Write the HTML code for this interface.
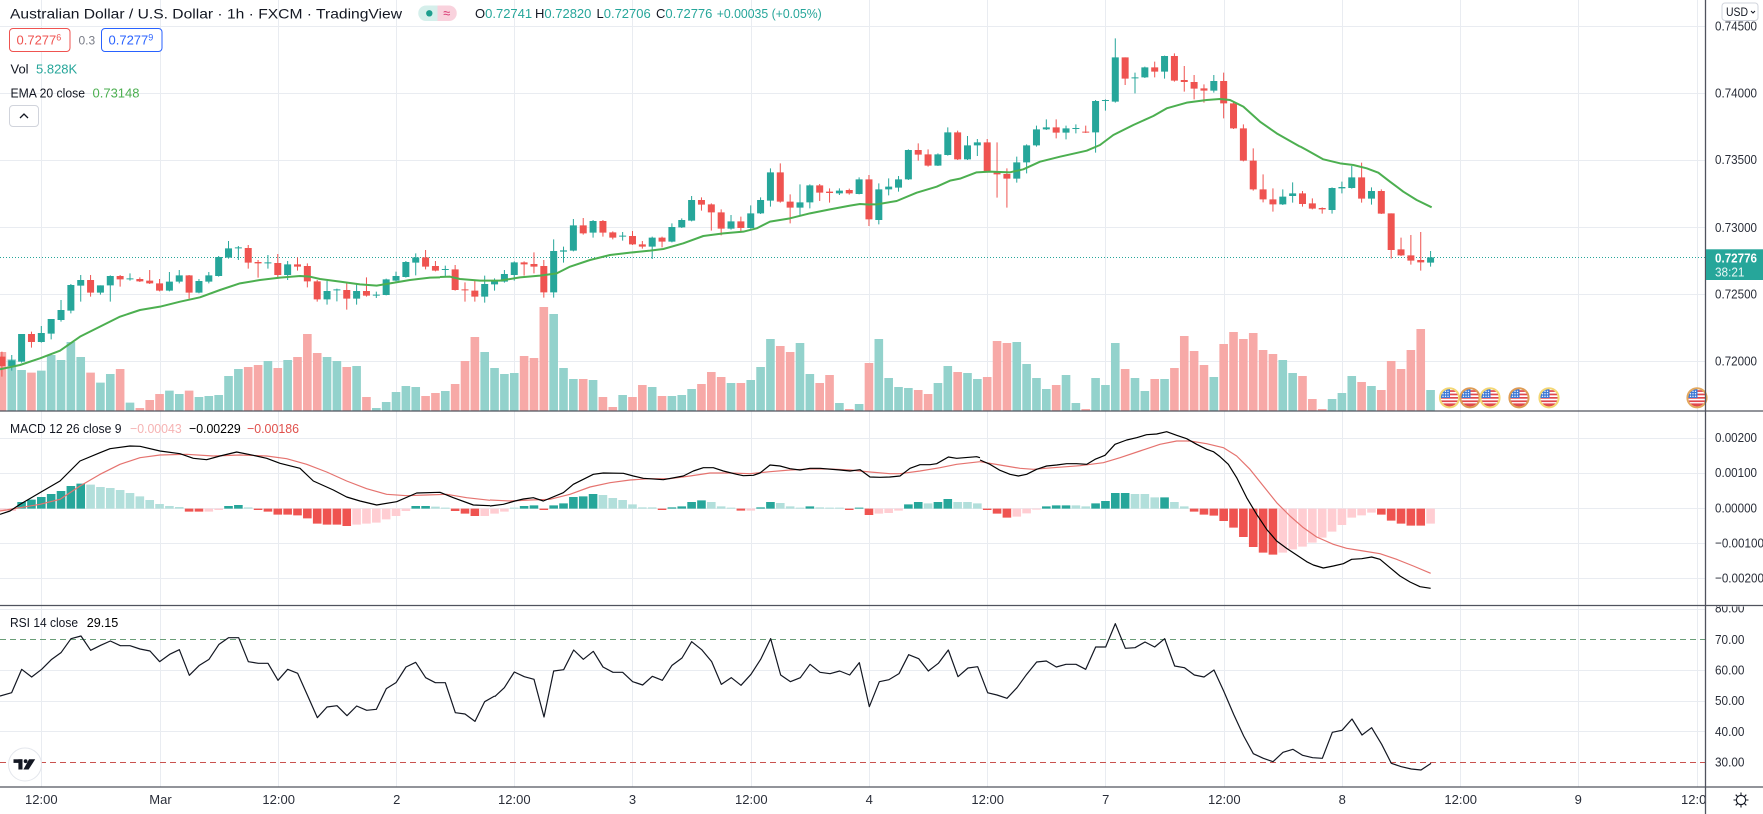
<!DOCTYPE html>
<html><head><meta charset="utf-8"><style>html,body{margin:0;padding:0;background:#fff;}svg{display:block}</style></head>
<body>
<svg width="1763" height="814" viewBox="0 0 1763 814" xmlns="http://www.w3.org/2000/svg" xmlns:xlink="http://www.w3.org/1999/xlink" font-family="'Liberation Sans', Arial, sans-serif">
<defs>
<clipPath id="fc"><circle cx="0" cy="0" r="8.8"/></clipPath>
<clipPath id="plotclip"><rect x="0" y="0" width="1705" height="814"/></clipPath>
<clipPath id="rsiax"><rect x="1706" y="606.5" width="60" height="180"/></clipPath>
<g id="flag">
<g clip-path="url(#fc)">
<rect x="-10" y="-10" width="20" height="20" fill="#fff"/>
<rect x="-10" y="-7.6" width="20" height="1.7" fill="#e0474c"/>
<rect x="-10" y="-4.2" width="20" height="1.7" fill="#e0474c"/>
<rect x="-10" y="-0.8" width="20" height="1.7" fill="#e0474c"/>
<rect x="-10" y="2.6" width="20" height="1.7" fill="#e0474c"/>
<rect x="-10" y="5.6" width="20" height="5" fill="#e0474c"/>
<rect x="-10" y="-10" width="10.5" height="10.2" fill="#3b78d6"/>
<g fill="#fff"><circle cx="-6.5" cy="-6.5" r="0.7"/><circle cx="-4" cy="-6.5" r="0.7"/><circle cx="-1.5" cy="-6.5" r="0.7"/><circle cx="-6.5" cy="-4" r="0.7"/><circle cx="-4" cy="-4" r="0.7"/><circle cx="-1.5" cy="-4" r="0.7"/><circle cx="-6.5" cy="-1.5" r="0.7"/><circle cx="-4" cy="-1.5" r="0.7"/><circle cx="-1.5" cy="-1.5" r="0.7"/></g>
</g>
</g>
</defs>
<rect x="0" y="0" width="1763" height="814" fill="#fff"/>

<!-- grid -->
<g stroke="#e9ecf1" stroke-width="1">
<path d="M0 26.5H1705M0 93.5H1705M0 160.5H1705M0 227.5H1705M0 294.5H1705M0 361.5H1705"/>
<path d="M0 438.5H1705M0 473.5H1705M0 508.5H1705M0 543.5H1705M0 578.5H1705"/>
<path d="M0 609.5H1705M0 670.5H1705M0 701.5H1705M0 731.5H1705"/>
<path d="M41.5 0V787M160.5 0V787M278.5 0V787M396.5 0V787M514.5 0V787M632.5 0V787M751.5 0V787M869.5 0V787M987.5 0V787M1105.5 0V787M1224.5 0V787M1342.5 0V787M1460.5 0V787M1578.5 0V787M1697.5 0V787"/>
</g>

<!-- VOLUME -->
<g fill="none" stroke-width="8.6">
<g transform="translate(1.9,180) scale(9.853,0.333333)">
<path vector-effect="non-scaling-stroke" stroke="#93d2cc" d="M1 538V693M2 570V693M4 572V693M5 525V693M6 540V693M7 486V693M8 531V693M10 608V693M11 582V693M13 668V693M17 632V693M18 642V693M20 651V693M21 648V693M22 645V693M23 588V693M24 567V693M27 543V693M29 540V693M33 531V693M34 543V693M36 558V693M38 684V693M39 666V693M40 636V693M41 618V693M42 621V693"/>
<path vector-effect="non-scaling-stroke" stroke="#f7a9a7" d="M0 516V693M3 578V693M9 578V693M12 567V693M14 684V693M15 660V693M16 642V693M19 632V693M25 561V693M26 555V693M28 564V693M30 531V693M31 462V693M32 519V693M35 561V693M37 651V693M43 648V693M44 639V693"/>
</g>
<g transform="translate(1.9,100) scale(9.853,0.333333)">
<path vector-effect="non-scaling-stroke" stroke="#93d2cc" d="M45 873V933M49 756V933M50 804V933M51 822V933M52 819V933M56 642V933M57 804V933M58 837V933M60 840V933M63 885V933M66 861V933M68 888V933M69 885V933M70 867V933M74 849V933M76 840V933M77 801V933M78 717V933M81 729V933M82 822V933M85 909V933M87 912V933"/>
<path vector-effect="non-scaling-stroke" stroke="#f7a9a7" d="M46 852V933M47 783V933M48 711V933M53 768V933M54 774V933M55 621V933M59 837V933M61 891V933M62 921V933M64 891V933M65 855V933M67 888V933M71 852V933M72 816V933M73 831V933M75 849V933M79 738V933M80 756V933M83 849V933M84 825V933M86 927V933M88 789V933"/>
</g>
<g transform="translate(1.9,20) scale(9.853,0.333333)">
<path vector-effect="non-scaling-stroke" stroke="#93d2cc" d="M89 957V1173M90 1074V1173M91 1101V1173M92 1104V1173M95 1089V1173M96 1038V1173M98 1059V1173M99 1077V1173M103 966V1173M104 1032V1173M105 1074V1173M106 1107V1173M108 1065V1173M109 1149V1173M111 1074V1173M112 1095V1173M113 969V1173M115 1074V1173M116 1113V1173M118 1077V1173M123 1071V1173M130 1020V1173M131 1059V1173"/>
<path vector-effect="non-scaling-stroke" stroke="#f7a9a7" d="M93 1110V1173M94 1122V1173M97 1056V1173M100 1071V1173M101 963V1173M102 969V1173M107 1095V1173M110 1167V1173M114 1047V1173M117 1077V1173M119 1044V1173M120 948V1173M121 993V1173M122 1035V1173M124 972V1173M125 936V1173M126 957V1173M127 939V1173M128 990V1173M129 1002V1173"/>
</g>
<g transform="translate(1.9,100) scale(9.853,0.333333)">
<path vector-effect="non-scaling-stroke" stroke="#93d2cc" d="M135 897V933M136 879V933M137 828V933M139 858V933M145 870V933"/>
<path vector-effect="non-scaling-stroke" stroke="#f7a9a7" d="M132 828V933M133 897V933M134 927V933M138 846V933M140 870V933M141 783V933M142 807V933M143 750V933M144 687V933"/>
</g>
</g>

<!-- price line -->
<line x1="0" y1="257.5" x2="1705" y2="257.5" stroke="#26a69a" stroke-width="1" stroke-dasharray="1 2"/>

<!-- CANDLES -->
<g fill="none">
<g transform="translate(1.9,180) scale(9.853,0.333333)">
<path vector-effect="non-scaling-stroke" stroke="#26a69a" stroke-width="1" d="M1 525V572M2 462V548M4 438V488M5 417V478M6 360V425M7 312V400M8 285V365M10 316V344M11 286V365M13 280V302M17 276V334M18 270V310M20 297V340M21 276V310M22 228V290M23 183V236M24 198V240M27 225V266M29 243V300M33 303V374M34 326V364M36 310V374M38 335V354M39 296V346M40 275V304M41 243V293M42 220V286"/>
<path vector-effect="non-scaling-stroke" stroke="#26a69a" stroke-width="7" d="M1 558V541M2 545V462M4 486V459M5 461V417M6 420V390M7 392V315M8 317V300M10 338V316M11 316V288M13 298V295M17 332V305M18 305V286M20 338V303M21 305V286M22 288V231M23 233V205M24 205V202M27 250V247M29 285V253M33 358V333M34 331V328M36 356V333M38 347V344M39 345V298M40 302V288M41 291V246M42 248V232"/>
<path vector-effect="non-scaling-stroke" stroke="#ef5350" stroke-width="1" d="M0 515V590M3 455V503M9 285V350M12 285V320M14 292V306M15 270V312M16 297V334M19 285V356M25 195V266M26 240V293M28 222V296M30 232V272M31 250V322M32 300V365M35 310V389M37 292V350M43 210V268M44 243V274"/>
<path vector-effect="non-scaling-stroke" stroke="#ef5350" stroke-width="7" d="M0 530V558M3 462V486M9 300V338M12 288V298M14 297V304M15 302V310M16 310V332M19 286V338M25 204V248M26 246V250M28 249V285M30 253V260M31 258V304M32 304V358M35 330V356M37 333V347M43 232V260M44 258V272"/>
</g>
<g transform="translate(1.9,100) scale(9.853,0.333333)">
<path vector-effect="non-scaling-stroke" stroke="#26a69a" stroke-width="1" d="M45 497V528M49 527V608M50 535V572M51 510V548M52 484V542M56 418V593M57 440V488M58 357V454M60 360V413M63 396V422M66 410V477M68 370V427M69 355V384M70 288V364M74 345V389M76 316V386M77 292V342M78 205V320M81 253V345M82 253V325M85 265V285M87 232V283"/>
<path vector-effect="non-scaling-stroke" stroke="#26a69a" stroke-width="7" d="M45 510V507M49 590V552M50 553V540M51 545V522M52 525V487M56 577V453M57 455V451M58 452V376M60 398V363M63 410V407M66 440V413M68 425V381M69 382V360M70 362V300M74 386V364M76 384V340M77 340V300M78 302V217M81 323V307M82 307V256M85 280V272M87 282V238"/>
<path vector-effect="non-scaling-stroke" stroke="#ef5350" stroke-width="1" d="M46 495V572M47 547V605M48 540V605M53 484V527M54 457V520M55 480V593M59 354V404M61 360V410M62 394V418M64 393V435M65 423V446M67 410V442M71 292V332M72 310V392M73 328V406M75 350V398M79 190V308M80 283V370M83 252V303M84 265V308M86 266V284M88 225V378"/>
<path vector-effect="non-scaling-stroke" stroke="#ef5350" stroke-width="7" d="M46 508V570M47 568V571M48 572V590M53 487V493M54 492V500M55 498V577M59 376V400M61 363V398M62 397V413M64 408V433M65 433V440M67 413V425M71 300V314M72 313V337M73 337V386M75 364V384M79 217V305M80 305V323M83 256V278M84 275V279M86 270V280M88 238V358"/>
</g>
<g transform="translate(1.9,20) scale(9.853,0.333333)">
<path vector-effect="non-scaling-stroke" stroke="#26a69a" stroke-width="1" d="M89 490V613M90 475V526M91 468V515M92 388V480M95 400V438M96 322V407M98 348V420M99 357V408M103 410V488M104 373V460M105 317V380M106 298V330M108 317V358M109 313V340M111 240V398M112 238V272M113 55V248M115 158V220M116 140V174M118 107V176M123 165V218M130 508V555M131 487V548"/>
<path vector-effect="non-scaling-stroke" stroke="#26a69a" stroke-width="7" d="M89 600V508M90 508V500M91 503V478M92 478V390M95 437V403M96 405V337M98 418V376M99 376V367M103 476V427M104 427V376M105 376V328M106 328V322M108 338V325M109 327V324M111 337V243M112 243V240M113 245V112M115 175V172M116 172V142M118 155V108M123 212V183M130 553V530M131 528V520"/>
<path vector-effect="non-scaling-stroke" stroke="#ef5350" stroke-width="1" d="M93 370V422M94 388V440M97 332V420M100 357V458M101 367V533M102 445V563M107 298V355M110 317V339M114 112V195M117 125V172M119 100V185M120 138V215M121 165V238M122 193V248M124 158V295M125 243V327M126 313V424M127 385V512M128 463V547M129 505V575"/>
<path vector-effect="non-scaling-stroke" stroke="#ef5350" stroke-width="7" d="M93 390V404M94 403V437M97 337V418M100 367V455M101 455V463M102 462V476M107 322V338M110 335V338M114 112V176M117 142V155M119 108V182M120 180V186M121 186V206M122 205V212M124 183V250M125 250V325M126 325V422M127 422V508M128 508V538M129 538V553"/>
</g>
<g transform="translate(1.9,100) scale(9.853,0.333333)">
<path vector-effect="non-scaling-stroke" stroke="#26a69a" stroke-width="1" d="M135 262V341M136 245V280M137 198V266M139 262V314M145 453V500"/>
<path vector-effect="non-scaling-stroke" stroke="#26a69a" stroke-width="7" d="M135 330V264M136 265V261M137 264V232M139 296V273M145 488V472"/>
<path vector-effect="non-scaling-stroke" stroke="#ef5350" stroke-width="1" d="M132 273V320M133 295V328M134 322V341M138 188V308M140 268V342M141 340V476M142 413V468M143 405V494M144 396V512"/>
<path vector-effect="non-scaling-stroke" stroke="#ef5350" stroke-width="7" d="M132 280V312M133 310V326M134 324V328M138 232V296M140 273V341M141 340V450M142 448V466M143 466V482M144 480V487"/>
</g>
</g>

<!-- EMA -->
<g fill="none" stroke="#4caf50" stroke-width="2" stroke-linejoin="round">
<polyline vector-effect="non-scaling-stroke" transform="translate(0,180) scale(0.333333)" points="0,568 60,555 120,535 180,512 240,470 300,440 360,410 420,390 480,380 540,365 600,352 660,330 720,310 780,300 840,293 900,288 930,290 960,297 1020,305 1080,313 1130,317 1170,310 1230,300 1290,293 1320,292"/>
<polyline vector-effect="non-scaling-stroke" transform="translate(430,100) scale(0.333333)" points="30,531 60,530 90,537 150,542 210,542 270,532 330,527 380,520 420,500 480,480 540,465 600,458 660,452 700,447 760,430 820,408 880,400 940,395 980,385 1020,365 1080,355 1140,340 1200,328 1260,317 1290,312 1320,314"/>
<polyline vector-effect="non-scaling-stroke" transform="translate(860,20) scale(0.333333)" points="30,553 50,553 110,543 170,518 230,500 270,482 300,476 350,457 390,455 450,457 490,448 540,425 600,410 680,392 720,375 760,345 820,315 880,288 920,265 980,248 1040,240 1080,237 1110,240 1150,260 1200,305 1250,340 1320,380"/>
<polyline vector-effect="non-scaling-stroke" transform="translate(1290,100) scale(0.333333)" points="30,139 50,150 100,178 150,190 190,195 230,205 265,218 300,245 340,275 380,300 425,322"/>
</g>

<!-- event flags -->
<g>
<use xlink:href="#flag" href="#flag" transform="translate(1449.5,397.8)"/><circle cx="1449.5" cy="397.8" r="9.6" fill="none" stroke="#f4d774" stroke-width="2"/>
<use xlink:href="#flag" href="#flag" transform="translate(1470,397.8)"/><circle cx="1470" cy="397.8" r="9.6" fill="none" stroke="#df9c55" stroke-width="2"/>
<use xlink:href="#flag" href="#flag" transform="translate(1490,397.8)"/><circle cx="1490" cy="397.8" r="9.6" fill="none" stroke="#f4d774" stroke-width="2"/>
<use xlink:href="#flag" href="#flag" transform="translate(1519,397.8)"/><circle cx="1519" cy="397.8" r="9.6" fill="none" stroke="#df9c55" stroke-width="2"/>
<use xlink:href="#flag" href="#flag" transform="translate(1549,397.8)"/><circle cx="1549" cy="397.8" r="9.6" fill="none" stroke="#f4d774" stroke-width="2"/>
<use xlink:href="#flag" href="#flag" transform="translate(1697,397.8)"/><circle cx="1697" cy="397.8" r="9.6" fill="none" stroke="#e3a85e" stroke-width="2"/>
</g>

<!-- MACD histogram -->
<g fill="none" stroke-width="8.6" transform="translate(1.9,411) scale(9.853,0.333333)">
<path vector-effect="non-scaling-stroke" stroke="#26a69a" d="M2 293V273M3 293V266M4 293V258M5 293V249M6 293V240M7 293V225M8 293V218M23 293V285M24 293V282M42 293V285M43 293V285M53 293V285M54 293V283M56 293V283M57 293V277M58 293V258M59 293V256M60 293V249M68 293V289M69 293V286M70 293V273M71 293V268M77 293V289M78 293V273M82 293V286M87 293V290M92 293V280M93 293V273M95 293V273M96 293V264M106 293V286M107 293V283M108 293V283M111 293V277M112 293V270M113 293V246M114 293V246M118 293V259"/>
<path vector-effect="non-scaling-stroke" stroke="#b2dfdb" d="M9 293V221M10 293V228M11 293V231M12 293V237M13 293V246M14 293V256M15 293V267M16 293V279M17 293V285M18 293V288M25 293V289M44 293V287M45 293V290M52 293V290M61 293V252M62 293V261M63 293V267M64 293V280M65 293V289M66 293V289M72 293V273M73 293V286M74 293V290M79 293V276M80 293V286M81 293V290M83 293V289M84 293V290M85 293V290M94 293V277M97 293V273M98 293V273M99 293V277M109 293V283M110 293V286M115 293V249M116 293V249M117 293V259M119 293V273M120 293V286"/>
<path vector-effect="non-scaling-stroke" stroke="#ef5350" d="M19 293V302M20 293V302M26 293V297M27 293V302M28 293V311M29 293V311M30 293V313M31 293V322M32 293V338M33 293V341M34 293V341M35 293V345M46 293V300M47 293V308M48 293V315M55 293V297M67 293V297M75 293V299M86 293V297M88 293V312M100 293V297M101 293V308M102 293V320M121 293V302M122 293V311M123 293V314M124 293V330M125 293V350M126 293V378M127 293V408M128 293V425M129 293V431M140 293V311M141 293V329M142 293V338M143 293V344M144 293V344"/>
<path vector-effect="non-scaling-stroke" stroke="#ffcdd2" d="M0 293V300M1 293V300M21 293V302M22 293V297M36 293V341M37 293V338M38 293V335M39 293V325M40 293V315M41 293V300M49 293V315M50 293V308M51 293V302M76 293V299M89 293V308M90 293V306M91 293V299M103 293V317M104 293V307M105 293V296M130 293V425M131 293V415M132 293V407M133 293V395M134 293V380M135 293V362M136 293V342M137 293V320M138 293V313M139 293V305M145 293V338"/>
</g>

<!-- MACD lines -->
<g fill="none" stroke-width="1.2" stroke-linejoin="round">
<polyline vector-effect="non-scaling-stroke" stroke="#e5736f" transform="translate(0,411) scale(0.333333)" points="0,300 60,290 120,280 180,265 240,225 300,190 360,160 420,140 480,132 560,130 640,135 720,132 800,135 860,143 920,160 980,183 1040,210 1100,233 1160,250 1220,254 1280,252 1340,250 1400,260 1470,268"/>
<polyline vector-effect="non-scaling-stroke" stroke="#e5736f" transform="translate(490,411) scale(0.333333)" points="0,267 60,270 120,267 180,265 240,250 300,228 360,215 420,207 480,203 540,203 600,195 660,186 720,186 780,188 840,182 900,177 960,174 1020,174 1080,177 1140,183 1200,188 1230,188 1290,180 1350,170 1400,160 1470,152"/>
<polyline vector-effect="non-scaling-stroke" stroke="#e5736f" transform="translate(980,411) scale(0.333333)" points="0,152 60,162 120,172 160,175 220,170 300,164 370,155 420,140 480,120 540,100 590,90 630,90 680,98 730,110 770,135 810,175 850,225 890,275 930,315 970,350 1010,378 1060,400 1100,412 1150,420 1200,428 1250,445 1300,465 1352,487"/>
<polyline vector-effect="non-scaling-stroke" stroke="#000" transform="translate(0,411) scale(0.333333)" points="0,310 30,300 60,280 120,245 180,210 240,150 300,125 330,113 390,105 420,106 480,120 540,128 580,142 620,146 660,135 710,123 760,133 800,142 840,157 900,172 940,210 1000,237 1040,258 1080,270 1130,282 1190,272 1250,246 1320,244 1360,260 1420,282 1470,284"/>
<polyline vector-effect="non-scaling-stroke" stroke="#000" transform="translate(490,411) scale(0.333333)" points="0,285 40,280 75,270 100,264 130,260 160,270 220,245 250,220 280,205 310,190 340,186 400,187 430,195 460,202 520,206 580,195 610,180 640,170 670,170 700,180 740,190 760,194 790,193 810,186 840,162 870,165 900,173 930,177 960,172 990,172 1050,177 1080,180 1110,176 1140,198 1170,199 1200,198 1230,195 1260,172 1290,161 1320,161 1340,158 1375,138 1400,142 1460,137 1470,140"/>
<polyline vector-effect="non-scaling-stroke" stroke="#000" transform="translate(980,411) scale(0.333333)" points="0,147 30,160 60,178 90,190 115,195 140,190 170,175 200,165 230,162 260,158 290,158 320,160 345,145 375,133 405,100 440,87 470,80 500,71 530,69 560,62 590,73 620,83 650,100 680,115 700,122 720,137 745,160 770,200 800,260 830,310 860,355 890,390 920,412 950,432 980,452 1000,462 1030,471 1060,465 1090,458 1115,445 1145,443 1175,438 1200,445 1230,470 1260,495 1290,513 1320,527 1352,532"/>
</g>

<!-- RSI bands -->
<line x1="0" y1="639.5" x2="1705" y2="639.5" stroke="#6a9e78" stroke-width="1" stroke-dasharray="6 4"/>
<line x1="0" y1="762.5" x2="1705" y2="762.5" stroke="#c9524f" stroke-width="1" stroke-dasharray="6 4"/>

<!-- RSI line -->
<g fill="none" stroke="#131722" stroke-width="1.2" stroke-linejoin="round">
<polyline vector-effect="non-scaling-stroke" transform="translate(0,411) scale(0.333333)" points="0,855 35,845 65,775 95,798 125,775 155,745 183,725 213,683 243,675 272,718 302,703 331,690 361,704 390,704 420,714 450,720 479,752 509,730 538,716 568,793 598,763 627,745 657,700 686,680 716,680 745,752 775,757 804,757 834,808 863,775 893,787 922,852 952,920 981,888 1011,884 1041,914 1070,885 1100,898 1129,895 1159,833 1188,815 1218,768 1247,754 1277,800 1306,815 1336,815 1366,905 1395,909 1425,931 1454,872 1484,855"/>
<polyline vector-effect="non-scaling-stroke" transform="translate(490,411) scale(0.333333)" points="14,857 43,830 73,783 103,797 132,805 162,918 191,780 221,776 251,717 280,745 310,721 339,768 369,784 398,784 428,812 458,822 487,796 517,808 546,763 576,741 605,692 635,716 665,752 694,820 724,800 753,823 783,790 812,745 842,683 872,792 901,812 931,800 960,760 990,784 1020,788 1049,780 1079,792 1108,755 1138,887 1168,812 1197,806 1227,788 1256,731 1286,743 1315,780 1345,757 1375,717 1404,797 1434,771 1463,767 1493,845"/>
<polyline vector-effect="non-scaling-stroke" transform="translate(980,411) scale(0.333333)" points="22,845 51,852 81,862 111,830 140,790 170,753 199,750 229,768 258,760 288,760 317,775 347,708 377,708 406,638 436,712 465,710 495,693 524,708 554,683 584,765 613,770 643,792 672,798 702,777 731,840 761,910 791,975 820,1028 850,1042 879,1052 909,1024 939,1015 968,1033 998,1040 1027,1042 1057,964 1086,958 1116,924 1146,972 1175,950 1205,1000 1234,1057 1264,1067 1294,1074 1323,1077 1353,1057"/>
</g>

<!-- TV logo -->
<circle cx="25" cy="764.5" r="16.5" fill="#fff" stroke="#e3e6ec" stroke-width="1"/>
<g fill="#131722">
<rect x="13.5" y="759.3" width="9" height="3.6"/>
<rect x="18.4" y="759.3" width="4.1" height="10.2"/>
<circle cx="25.6" cy="761.2" r="1.9"/>
<polygon points="29,759.3 35.2,759.3 28.6,769.5 23.4,769.5"/>
</g>

<!-- separators -->
<g stroke="#50535e" stroke-width="1.3">
<line x1="0" y1="411" x2="1763" y2="411"/>
<line x1="0" y1="605.5" x2="1763" y2="605.5"/>
<line x1="0" y1="787" x2="1763" y2="787"/>
<line x1="1705.5" y1="0" x2="1705.5" y2="814"/>
</g>

<!-- header legend -->
<text x="10" y="18.5" font-size="14" fill="#131722" textLength="392" lengthAdjust="spacingAndGlyphs">Australian Dollar / U.S. Dollar · 1h · FXCM · TradingView</text>
<path d="M426 5.5H437.5V21H426A7.75 7.75 0 0 1 426 5.5Z" fill="#d5efeb"/>
<path d="M437.5 5.5H449A7.75 7.75 0 0 1 449 21H437.5Z" fill="#f9d2dd"/>
<circle cx="429.3" cy="13.3" r="3.2" fill="#1e9e8e"/>
<text x="446.7" y="17.5" font-size="13" fill="#d8336f" text-anchor="middle">≈</text>
<g font-size="13">
<text x="475" y="18"><tspan fill="#131722">O</tspan><tspan fill="#26a69a">0.72741</tspan></text>
<text x="535" y="18"><tspan fill="#131722">H</tspan><tspan fill="#26a69a">0.72820</tspan></text>
<text x="596.5" y="18"><tspan fill="#131722">L</tspan><tspan fill="#26a69a">0.72706</tspan></text>
<text x="656" y="18"><tspan fill="#131722">C</tspan><tspan fill="#26a69a">0.72776</tspan></text>
<text x="716.7" y="18" fill="#26a69a" textLength="105" lengthAdjust="spacingAndGlyphs">+0.00035 (+0.05%)</text>
</g>

<rect x="9.5" y="28.5" width="60.5" height="23" rx="3.5" fill="#fff" stroke="#ef5350" stroke-width="1"/>
<text x="16.5" y="44.5" font-size="13" fill="#ef5350">0.7277<tspan font-size="9" dy="-4">6</tspan></text>
<text x="78.5" y="44.5" font-size="12" fill="#787b86">0.3</text>
<rect x="101.5" y="28.5" width="60.5" height="23" rx="3.5" fill="#fff" stroke="#2962ff" stroke-width="1"/>
<text x="108.5" y="44.5" font-size="13" fill="#2962ff">0.7277<tspan font-size="9" dy="-4">9</tspan></text>

<text x="10.5" y="73.5" font-size="13" fill="#131722">Vol</text>
<text x="36" y="73.5" font-size="13" fill="#26a69a">5.828K</text>
<text x="10.5" y="97.5" font-size="13" fill="#131722" textLength="74.5" lengthAdjust="spacingAndGlyphs">EMA 20 close</text>
<text x="92.5" y="97.5" font-size="13" fill="#4caf50">0.73148</text>
<rect x="9.5" y="105.5" width="29" height="21" rx="3.5" fill="#fff" stroke="#d1d4dc" stroke-width="1"/>
<path d="M20 118 L24 114 L28 118" fill="none" stroke="#131722" stroke-width="1.3"/>

<!-- MACD legend -->
<text x="10" y="432.8" font-size="13" fill="#131722" textLength="111.5" lengthAdjust="spacingAndGlyphs">MACD 12 26 close 9</text>
<text x="130" y="432.8" font-size="13" fill="#f6b3b3" textLength="51.7" lengthAdjust="spacingAndGlyphs">−0.00043</text>
<text x="189" y="432.8" font-size="13" fill="#000" textLength="51.7" lengthAdjust="spacingAndGlyphs">−0.00229</text>
<text x="247" y="432.8" font-size="13" fill="#e0504c" textLength="52" lengthAdjust="spacingAndGlyphs">−0.00186</text>

<!-- RSI legend -->
<text x="10" y="627" font-size="13" fill="#131722" textLength="68" lengthAdjust="spacingAndGlyphs">RSI 14 close</text>
<text x="86.7" y="627" font-size="13" fill="#000" textLength="31.6" lengthAdjust="spacingAndGlyphs">29.15</text>

<!-- price axis -->
<g font-size="13" fill="#2a2e39">
<text x="1715" y="30.7" textLength="42" lengthAdjust="spacingAndGlyphs">0.74500</text>
<text x="1715" y="97.6" textLength="42" lengthAdjust="spacingAndGlyphs">0.74000</text>
<text x="1715" y="164.2" textLength="42" lengthAdjust="spacingAndGlyphs">0.73500</text>
<text x="1715" y="232" textLength="42" lengthAdjust="spacingAndGlyphs">0.73000</text>
<text x="1715" y="298.6" textLength="42" lengthAdjust="spacingAndGlyphs">0.72500</text>
<text x="1715" y="365.3" textLength="42" lengthAdjust="spacingAndGlyphs">0.72000</text>

<text x="1715" y="441.8" textLength="42" lengthAdjust="spacingAndGlyphs">0.00200</text>
<text x="1715" y="477" textLength="42" lengthAdjust="spacingAndGlyphs">0.00100</text>
<text x="1715" y="512.6" textLength="42" lengthAdjust="spacingAndGlyphs">0.00000</text>
<text x="1715" y="547.6" textLength="49" lengthAdjust="spacingAndGlyphs">−0.00100</text>
<text x="1715" y="582.6" textLength="49" lengthAdjust="spacingAndGlyphs">−0.00200</text>

<g clip-path="url(#rsiax)">
<text x="1715" y="612.5" textLength="29.5" lengthAdjust="spacingAndGlyphs">80.00</text>
<text x="1715" y="643.8" textLength="29.5" lengthAdjust="spacingAndGlyphs">70.00</text>
<text x="1715" y="674.4" textLength="29.5" lengthAdjust="spacingAndGlyphs">60.00</text>
<text x="1715" y="705.1" textLength="29.5" lengthAdjust="spacingAndGlyphs">50.00</text>
<text x="1715" y="736" textLength="29.5" lengthAdjust="spacingAndGlyphs">40.00</text>
<text x="1715" y="766.7" textLength="29.5" lengthAdjust="spacingAndGlyphs">30.00</text>
</g>
</g>

<!-- USD button -->
<rect x="1722" y="3" width="36" height="17.5" rx="3" fill="#fff" stroke="#d1d4dc" stroke-width="1"/>
<text x="1726" y="16.2" font-size="12" fill="#131722" textLength="22" lengthAdjust="spacingAndGlyphs">USD</text>
<path d="M1751 11 L1753 13 L1755 11" fill="none" stroke="#131722" stroke-width="1"/>

<!-- current price label -->
<rect x="1706" y="249.3" width="57" height="30.7" fill="#26a69a"/>
<text x="1715" y="262.3" font-size="13" font-weight="bold" fill="#fff" textLength="42" lengthAdjust="spacingAndGlyphs">0.72776</text>
<text x="1715" y="276.7" font-size="13" fill="#e8f6f4" textLength="29.5" lengthAdjust="spacingAndGlyphs">38:21</text>

<!-- time axis -->
<g font-size="13" fill="#2a2e39" text-anchor="middle" clip-path="url(#plotclip)">
<text x="41.3" y="803.8">12:00</text>
<text x="160.5" y="803.8">Mar</text>
<text x="278.7" y="803.8">12:00</text>
<text x="396.7" y="803.8">2</text>
<text x="514.3" y="803.8">12:00</text>
<text x="632.5" y="803.8">3</text>
<text x="751.3" y="803.8">12:00</text>
<text x="869.3" y="803.8">4</text>
<text x="987.7" y="803.8">12:00</text>
<text x="1105.7" y="803.8">7</text>
<text x="1224.3" y="803.8">12:00</text>
<text x="1342.3" y="803.8">8</text>
<text x="1460.7" y="803.8">12:00</text>
<text x="1578.3" y="803.8">9</text>
<text x="1697.3" y="803.8">12:00</text>
</g>

<!-- gear icon -->
<g transform="translate(1741,800)" fill="none" stroke="#131722" stroke-width="1.1">
<circle r="4.6"/>
<path d="M0 -7.5V-4.6M0 4.6V7.5M-7.5 0H-4.6M4.6 0H7.5M-5.3 -5.3L-3.3 -3.3M3.3 3.3L5.3 5.3M-5.3 5.3L-3.3 3.3M3.3 -3.3L5.3 -5.3"/>
</g>
</svg>
</body></html>
